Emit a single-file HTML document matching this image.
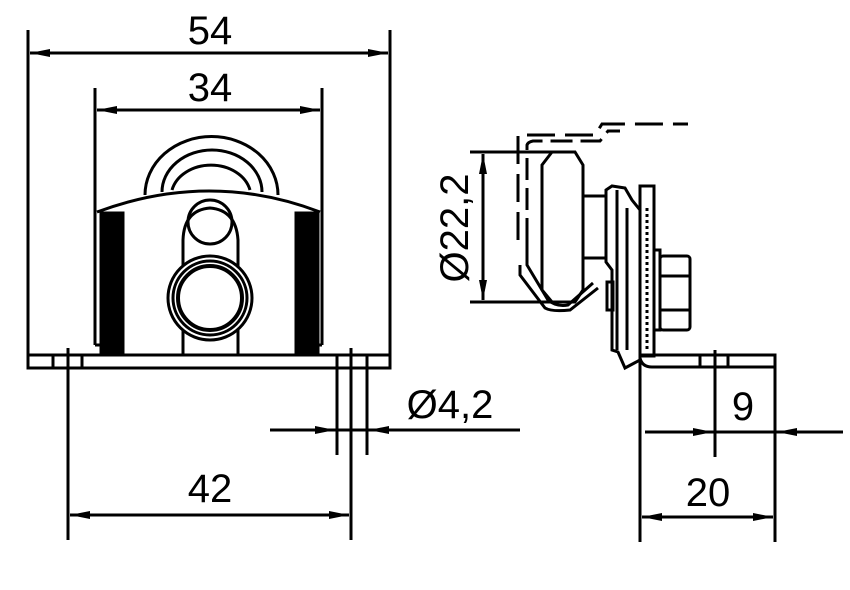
<!DOCTYPE html>
<html><head><meta charset="utf-8"><style>
html,body{margin:0;padding:0;background:#fff;}
svg{display:block}
text{font-family:"Liberation Sans",sans-serif;font-size:40px;fill:#000}
</style></head><body>
<svg width="850" height="590" viewBox="0 0 850 590" xmlns="http://www.w3.org/2000/svg">
<defs>
<marker id="a" viewBox="0 0 20 8" refX="20" refY="4" markerWidth="20" markerHeight="8" orient="auto" markerUnits="userSpaceOnUse"><path d="M0,0 L20,4 L0,8 Z" fill="#000"/></marker>
</defs>
<g stroke="#000" stroke-width="3" fill="none">
<line x1="28" y1="30" x2="28" y2="368"/>
<line x1="390" y1="30" x2="390" y2="368"/>
<line x1="209" y1="53" x2="388" y2="53" marker-end="url(#a)"/>
<line x1="209" y1="53" x2="30" y2="53" marker-end="url(#a)"/>
<line x1="95" y1="88" x2="95" y2="215"/>
<line x1="322" y1="88" x2="322" y2="215"/>
<line x1="208" y1="110" x2="320" y2="110" marker-end="url(#a)"/>
<line x1="208" y1="110" x2="97" y2="110" marker-end="url(#a)"/>
<rect x="28" y="355" width="362" height="13"/>
<line x1="53" y1="355" x2="53" y2="368"/><line x1="82" y1="355" x2="82" y2="368"/>
<line x1="337" y1="355" x2="337" y2="368"/><line x1="367" y1="355" x2="367" y2="368"/>
<line x1="68" y1="348" x2="68" y2="540"/>
<line x1="351" y1="348" x2="351" y2="540"/>
<line x1="337" y1="368" x2="337" y2="455"/>
<line x1="367" y1="368" x2="367" y2="455"/>
<line x1="210" y1="515" x2="349" y2="515" marker-end="url(#a)"/>
<line x1="210" y1="515" x2="70" y2="515" marker-end="url(#a)"/>
<line x1="270" y1="430" x2="520" y2="430"/>
<line x1="300" y1="430" x2="335" y2="430" marker-end="url(#a)"/>
<line x1="400" y1="430" x2="369" y2="430" marker-end="url(#a)"/>
<line x1="95" y1="215" x2="95" y2="345"/>
<line x1="322" y1="215" x2="322" y2="345"/>
<line x1="95" y1="345" x2="102" y2="345"/><line x1="316" y1="345" x2="322" y2="345"/>
<path d="M97,212 Q210,170 320,212"/>
<path d="M145,195 A66,58 0 0 1 278,195"/>
<path d="M162,192 A50,42 0 0 1 262,192"/>
<path d="M172,190 A40,32 0 0 1 250,190"/>
<rect x="101" y="213" width="22" height="142" fill="#000"/>
<rect x="296" y="213" width="22" height="142" fill="#000"/>
<circle cx="210" cy="222" r="22"/>
<path d="M183,355 L183,240 Q184,210 210,208 Q236,210 238,240 L238,355"/>
<circle cx="210" cy="298" r="42" fill="#fff"/>
<circle cx="210" cy="298" r="37"/>
<circle cx="210" cy="298" r="32" stroke-width="4"/>
<line x1="470" y1="152" x2="560" y2="152"/>
<line x1="470" y1="302" x2="560" y2="302"/>
<line x1="483" y1="227" x2="483" y2="154" marker-end="url(#a)"/>
<line x1="483" y1="227" x2="483" y2="300" marker-end="url(#a)"/>
<path d="M518,240 L518,135 L595,135 L602,124 L688,124" stroke-dasharray="28,10"/>
<path d="M527,240 L527,145 Q528,142 533,141 L600,141 L608,131 L620,131" stroke-dasharray="22,8"/>
<path d="M527,240 L527,265 L548,300 Q556,307 568,305 L593,283"/>
<path d="M520,265 L520,275 L545,308 Q552,312 570,310 L598,288"/>
<path d="M552,152 L575,152 L583,165 L583,290 L575,302 L552,302 L542,290 L542,165 Z"/>
<rect x="583" y="196" width="23" height="62"/>
<path d="M606,190 L612,186 L625,188 L632,200 L640,210 L640,360 L625,368 L618,352 L612,350 L612,270 L606,262 Z"/>
<line x1="617" y1="190" x2="617" y2="350"/>
<line x1="627" y1="208" x2="627" y2="350"/>
<rect x="640" y="186" width="14" height="170"/>
<path d="M647,208 L647,350" stroke-dasharray="3,3" stroke-width="3"/>
<rect x="654" y="250" width="6" height="80"/>
<rect x="660" y="256" width="30" height="74" rx="3"/>
<line x1="660" y1="276" x2="690" y2="276"/>
<line x1="660" y1="310" x2="690" y2="310"/>
<rect x="607" y="282" width="6" height="28"/>
<path d="M640,355 L775,355 L775,367 L652,367 Q642,367 640,358"/>
<line x1="700" y1="355" x2="700" y2="367"/>
<line x1="728" y1="355" x2="728" y2="367"/>
<line x1="640" y1="360" x2="640" y2="542"/>
<line x1="775" y1="355" x2="775" y2="542"/>
<line x1="715" y1="350" x2="715" y2="457"/>
<line x1="645" y1="432" x2="843" y2="432"/>
<line x1="680" y1="432" x2="713" y2="432" marker-end="url(#a)"/>
<line x1="810" y1="432" x2="777" y2="432" marker-end="url(#a)"/>
<line x1="708" y1="517" x2="642" y2="517" marker-end="url(#a)"/>
<line x1="708" y1="517" x2="773" y2="517" marker-end="url(#a)"/>
</g>
<text x="210" y="44" text-anchor="middle">54</text>
<text x="210" y="101" text-anchor="middle">34</text>
<text x="210" y="502" text-anchor="middle">42</text>
<text x="450" y="418" text-anchor="middle">Ø4,2</text>
<text x="708" y="506" text-anchor="middle">20</text>
<text x="743" y="420" text-anchor="middle">9</text>
<text x="0" y="0" text-anchor="middle" transform="translate(468,228) rotate(-90)">Ø22,2</text>
</svg>
</body></html>
